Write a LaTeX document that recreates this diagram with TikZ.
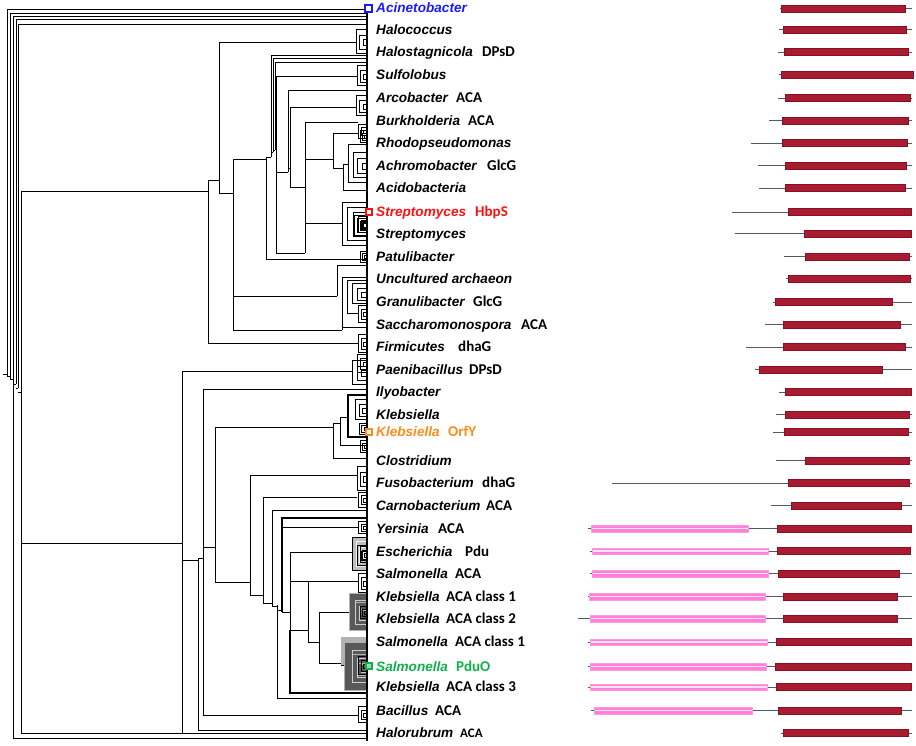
\documentclass[tikz,border=0pt]{standalone}
\usepackage{fontspec}
\setmainfont{Liberation Sans}
\newfontfamily\sfxfont{Carlito}
\definecolor{lngray}{HTML}{4F5D6B}
\definecolor{domred}{HTML}{A81C32}
\definecolor{domdark}{HTML}{8A0F22}
\definecolor{pinkd}{HTML}{FF80D8}
\definecolor{pinkl}{HTML}{FFE2F6}
\definecolor{cblue}{HTML}{1A1AFF}
\definecolor{cred}{HTML}{FF1010}
\definecolor{corange}{HTML}{FF8C1A}
\definecolor{cgreen}{HTML}{12B04A}
\tikzset{
 tr/.style={line width=1pt, black},
 thk/.style={line width=2pt, black},
 gen/.style={anchor=base west, inner sep=0pt, font=\fontsize{13.6}{14}\selectfont\bfseries\itshape},
 sfx/.style={anchor=base west, inner sep=0pt, font=\fontsize{15}{16}\sfxfont\bfseries},
 ln/.style={line width=1pt, lngray},
 dom/.style={fill=domred, draw=domdark, line width=0.6pt},
 pk/.style={fill=pinkd, draw=pinkd!80, line width=0.4pt},
 pkmid/.style={line width=1.3pt, pinkl},
 mark box/.style={line width=2pt, fill=white, minimum size=6.5pt, inner sep=0pt},
}
\newcommand{\tcomb}[4][black]{%
  \pgfmathsetmacro\tcXa{#2+(367-#2)*0.35}%
  \pgfmathsetmacro\tcXb{#2+(367-#2)*0.65}%
  \pgfmathsetmacro\tcYa{#3+(#4-#3)*0.25}%
  \pgfmathsetmacro\tcYb{#3+(#4-#3)*0.85}%
  \pgfmathsetmacro\tcYc{#3+(#4-#3)*0.45}%
  \pgfmathsetmacro\tcYd{#3+(#4-#3)*0.7}%
  \draw[tr,#1] (367,#3) -| (#2,#4) -- (367,#4);
  \draw[tr,#1] (367,\tcYa) -| (\tcXa,\tcYb) -- (367,\tcYb);
  \draw[tr,#1] (367,\tcYc) -| (\tcXb,\tcYd) -- (367,\tcYd);
}
\begin{document}
\begin{tikzpicture}[x=1pt,y=-1pt]
\useasboundingbox (0,0) rectangle (916,745);

% ---------- root ladder ----------
\draw[tr] (367,9) -| (7,376);
\draw[tr] (367,13) -| (10,379);
\draw[tr] (367,16) -| (13,738) -- (367,738);
\draw[tr] (367,19) -| (16,384);
\draw[tr] (367,24) -| (18,388);
\draw[tr] (3,374) -- (7,374);
\draw[tr] (7,376) -- (10,376);
\draw[tr] (10,379) -- (13,379);
\draw[tr] (13,384) -- (16,384);
\draw[tr] (16,388) -- (18,388);
\draw[tr] (18,392) -- (21,392);
\draw[tr] (208,191) -| (21,733) -- (367,733);

% ---------- upper clade ----------
\draw[tr] (219,180) -| (208,343) -- (358,343);
\draw[tr] (356,42) -| (219,193) -- (233,193);
\draw[tr] (266,159) -| (233,330) -- (342,330);
\draw[tr] (233,296) -- (337,296);
\draw[tr] (266,157) |- (367,259);
\draw[tr] (266,157) -- (271,157);
\draw[tr] (367,55) -| (271,157);
\draw[tr] (271,152) -- (273,152);
\draw[tr] (367,58) -| (273,152);
\draw[tr] (273,150) -- (275,150);
\draw[tr] (367,62) -| (275,150);
\draw[tr] (275,148) -- (276,148);
\draw[tr] (357,76) -| (276,253) -- (305,253);
\draw[tr] (276,172) -- (288,172);
\draw[tr] (367,90) -| (288,172);
\draw[tr] (288,168) -- (290,168);
\draw[tr] (356,107) -| (290,187) -- (305,187);
\draw[tr] (358,122) -| (305,253);
\draw[tr] (305,159) -- (333,159);
\draw[tr] (305,223) -- (342,223);
\draw[tr] (359,133) -| (333,168) -- (343,168);
% Achromobacter / Acidobacteria
\draw[tr] (343,164) |- (367,190);
\draw[tr] (343,164) -- (348,164);
\draw[tr] (367,144) -| (348,182) -- (367,182);
\tcomb{353}{152}{177}
% terminal combs (upper)
\tcomb{356}{29}{53}
\tcomb{357}{65}{85}
\tcomb{356}{95}{115}
\tcomb{358}{124}{138}
\tcomb{360}{130}{142}
% Streptomyces
\draw[tr] (367,202) -| (342,245) -- (367,245);
\tcomb{347}{207}{240}
\tcomb{353}{212}{236}
\tcomb{358}{216}{232}
% Patulibacter etc.
\tcomb{360}{251}{262}
\draw[tr] (367,265) -| (337,296);
\draw[tr] (367,277) -| (342,330);
\draw[tr] (367,327) -- (342,327);
\draw[tr] (367,280) -| (347,313) -- (358,313);
\tcomb{352}{283}{303}
\tcomb{358}{305}{322}
% Firmicutes
\tcomb{358}{334}{352}

% ---------- lower clade ----------
\draw[tr] (21,543) -- (182,543);
\draw[tr] (352,371) -| (182,733);
\tcomb{352}{360}{384}
\tcomb{357}{354}{372}
\draw[tr] (182,560) -- (198,560);
\draw[tr] (198,558) |- (367,730);
\draw[tr] (198,558) -- (203,558);
\draw[tr] (367,389) -| (203,715) -- (358,715);
\tcomb{358}{706}{722}
\draw[tr] (203,547) -- (215,547);
\draw[tr] (333,427) -| (215,582) -- (250,582);
% Klebsiella OrfY clade
\draw[tr] (340,423) -| (333,458) -- (367,458);
\draw[tr] (348,417) -| (340,445) -- (367,445);
\draw[thk] (367,395) -| (348,437) -- (367,437);
\tcomb{355}{399}{419}
\tcomb{359}{423}{434}
\tcomb{360}{440}{452}
% Fusobacterium / Carnobacterium
\draw[tr] (357,475) -| (250,595) -- (263,595);
\tcomb{357}{466}{490}
\draw[tr] (357,497) -| (263,603) -- (272,603);
\tcomb{358}{492}{507}
\draw[tr] (367,510) -| (272,606) -- (277,606);
\draw[tr] (277,605) |- (367,698);
\draw[tr] (277,610) -- (282,610);
\draw[thk] (367,518) -| (282,612);
\draw[tr] (282,527) -- (358,527);
\tcomb{358}{521}{533}
\draw[tr] (282,612) -- (290,612);
\draw[tr] (352,552) -| (290,630);
\draw[thk] (290,630) |- (367,693);
% Escherichia block
\fill[black!25] (352,537) rectangle (367,570);
\tcomb{352}{537}{570}
\tcomb[black!5]{356}{541}{566}
\tcomb{360}{546}{562}
\draw[tr] (358,581) -| (290,630) -- (308,630);
\draw[tr] (358,581) -| (308,642) -- (319,642);
\tcomb{358}{573}{592}
% Klebsiella ACA class 1/2 block
\draw[tr] (349,612) -| (319,663) -- (341,663);
\fill[black!65] (349,593) rectangle (367,630);
\tcomb[black!30]{349}{593}{630}
\tcomb[black!20]{355}{600}{624}
\tcomb{360}{606}{618}
% Salmonella PduO block
\draw[tr] (367,637) -| (341,665) -- (344,665);
\fill[black!30] (341,637) rectangle (367,665);
\fill[black!65] (344,642) rectangle (367,690);
\tcomb[black!30]{344}{642}{690}
\tcomb[black!20]{352}{650}{682}
\tcomb{358}{656}{674}

% leaf line
\draw[line width=2.4pt] (367,4) -- (367,741);

% ---------- coloured markers ----------
\node[mark box, draw=cblue] (m1) at (368.5,8.5) {};
\node[mark box, draw=cred] (m2) at (369,212) {};
\node[mark box, draw=corange, minimum size=6pt] (m3) at (369,432) {};
\node[mark box, draw=cgreen, fill=cgreen!45, minimum size=6pt] (m4) at (369,666) {};

% ---------- labels ----------
\node[gen,text=cblue] (g1) at (376,12.7) {Acinetobacter};
\node[gen] (g2) at (376,34) {Halococcus};
\node[gen] (g3) at (376,56.7) {Halostagnicola}; \node[sfx] (s3) at (482,56.7) {DPsD};
\node[gen] (g4) at (376,79.3) {Sulfolobus};
\node[gen] (g5) at (376,102.7) {Arcobacter}; \node[sfx] (s5) at (456,102.7) {ACA};
\node[gen] (g6) at (376,125) {Burkholderia}; \node[sfx] (s6) at (468,125) {ACA};
\node[gen] (g7) at (376,147.7) {Rhodopseudomonas};
\node[gen] (g8) at (376,170) {Achromobacter}; \node[sfx] (s8) at (487,170) {GlcG};
\node[gen] (g9) at (376,192.7) {Acidobacteria};
\node[gen,text=cred] (g10) at (376,216.7) {Streptomyces}; \node[sfx,text=cred] (s10) at (475,216.7) {HbpS};
\node[gen] (g11) at (376,238.3) {Streptomyces};
\node[gen] (g12) at (376,261) {Patulibacter};
\node[gen] (g13) at (376,283.3) {Uncultured archaeon};
\node[gen] (g14) at (376,306.7) {Granulibacter}; \node[sfx] (s14) at (473,306.7) {GlcG};
\node[gen] (g15) at (376,329.3) {Saccharomonospora}; \node[sfx] (s15) at (521,329.3) {ACA};
\node[gen] (g16) at (376,351.7) {Firmicutes}; \node[sfx] (s16) at (458,351.7) {dhaG};
\node[gen] (g17) at (376,374.3) {Paenibacillus}; \node[sfx] (s17) at (469,374.3) {DPsD};
\node[gen] (g18) at (376,396.7) {Ilyobacter};
\node[gen] (g19) at (376,419.3) {Klebsiella};
\node[gen,text=corange] (g20) at (376,436.7) {Klebsiella}; \node[sfx,text=corange] (s20) at (448,436.7) {OrfY};
\node[gen] (g21) at (376,465) {Clostridium};
\node[gen] (g22) at (376,487.7) {Fusobacterium}; \node[sfx] (s22) at (482,487.7) {dhaG};
\node[gen] (g23) at (376,510) {Carnobacterium}; \node[sfx] (s23) at (486,510) {ACA};
\node[gen] (g24) at (376,533.3) {Yersinia}; \node[sfx] (s24) at (438,533.3) {ACA};
\node[gen] (g25) at (376,556) {Escherichia}; \node[sfx] (s25) at (465,556) {Pdu};
\node[gen] (g26) at (376,578.3) {Salmonella}; \node[sfx] (s26) at (455,578.3) {ACA};
\node[gen] (g27) at (376,601) {Klebsiella}; \node[sfx] (s27) at (446,601) {ACA class 1};
\node[gen] (g28) at (376,623.3) {Klebsiella}; \node[sfx] (s28) at (446,623.3) {ACA class 2};
\node[gen] (g29) at (376,646.7) {Salmonella}; \node[sfx] (s29) at (455,646.7) {ACA class 1};
\node[gen,text=cgreen] (g30) at (376,671) {Salmonella}; \node[sfx,text=cgreen] (s30) at (456,671) {PduO};
\node[gen] (g31) at (376,691.7) {Klebsiella}; \node[sfx] (s31) at (446,691.7) {ACA class 3};
\node[gen] (g32) at (376,715) {Bacillus}; \node[sfx] (s32) at (435,715) {ACA};
\node[gen] (g33) at (376,737.7) {Halorubrum}; \node[sfx,font=\fontsize{13}{14}\sfxfont\bfseries] (s33) at (460,737.7) {ACA};

% ---------- domain diagrams ----------
\foreach \yc/\la/\lb/\ra/\rb in {
 8.5/780/912/781/905, 29.5/779/912/783/906, 52/778/912/784/908,
 74.5/779/913/781/913, 98/778/912/785/910, 120.5/769/912/782/908,
 143/751/912/782/907, 165.5/758/912/785/906, 188/759/912/785/905,
 212/732/912/788/911, 233.5/735/912/804/911, 256.5/784/912/805/909,
 278.5/786/912/788/910, 302/773/912/775/892, 324.5/765/912/783/900,
 347/746/912/783/905, 369.5/755/912/759/882, 392/779/912/785/911,
 414.5/776/912/785/909, 432/773/912/784/908, 460.5/776/912/805/909,
 483/612/912/788/909, 505.5/771/912/791/901, 733/781/912/783/908}{
  \draw[ln] (\la,\yc) -- (\lb,\yc);
  \draw[dom] (\ra,\yc-3.5) rectangle (\rb,\yc+3.5);
}
\foreach \yc/\la/\lb/\pa/\pb/\ra/\rb in {
 528.5/588/911/591/748/777/911, 551/590/911/592/768/777/910,
 573.5/590/912/592/768/778/899, 596.5/588/912/589/765/783/897,
 618.5/578/912/590/765/783/897, 642/588/911/590/767/776/911,
 666.5/588/911/590/766/775/911, 687/588/911/590/767/776/911,
 710.5/591/912/594/752/778/901}{
  \draw[ln] (\la,\yc) -- (\lb,\yc);
  \draw[pk] (\pa,\yc-3.3) rectangle (\pb,\yc+3.3);
  \draw[pkmid] (\pa+0.5,\yc) -- (\pb-0.5,\yc);
  \draw[dom] (\ra,\yc-3.5) rectangle (\rb,\yc+3.5);
}
\end{tikzpicture}
\end{document}
